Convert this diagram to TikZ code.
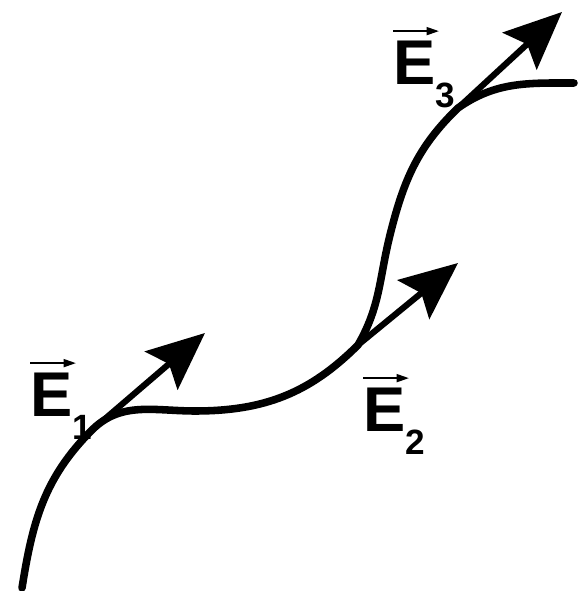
\documentclass[tikz,border=0pt]{standalone}
\usepackage{fontspec}
\setmainfont{Liberation Sans}
\usetikzlibrary{arrows.meta}
\newcommand{\fieldvec}[1]{E\raisebox{-0.46cm}{\fontsize{20}{20}\selectfont #1}}
\begin{document}
\begin{tikzpicture}[x=0.02cm, y=0.02cm,
    fieldline/.style={line width=4.3pt, line cap=round},
    fieldarrow/.style={line width=3.5pt, -{Stealth[length=1.15cm, width=1cm, inset=0.2cm]}},
    vecbar/.style={line width=1.1pt, -{Triangle[length=0.25cm, width=0.16cm]}},
    lbl/.style={font=\fontsize{36}{40}\selectfont\bfseries, inner sep=0pt, anchor=base west}]
    \useasboundingbox (0,0) rectangle (585,591);

    % Linia pola
    \coordinate (s) at (22,3);
    \coordinate (p1) at (92,161);
    \coordinate (m1) at (195,180);
    \coordinate (p2) at (358,246);
    \coordinate (m2) at (390,356);
    \coordinate (p3) at (458,483);
    \coordinate (t) at (574,508);
    \draw[fieldline] (s) to[out=81, in=225] (p1) to[out=45, in=180] (m1)
        to[out=0, in=225] (p2) to[out=60, in=256] (m2)
        to[out=76, in=224] (p3) to[out=35, in=180] (t);

    % Wektory natezenia
    \coordinate (e1) at (205,258);
    \coordinate (e2) at (458,328);
    \coordinate (e3) at (562,579);
    \draw[fieldarrow] (p1) -- (e1);
    \draw[fieldarrow] (p2) -- (e2);
    \draw[fieldarrow] (p3) -- (e3);

    % Podpisy
    \node (l1) at (30,174) [lbl] {\fieldvec{1}};
    \node (l2) at (363,159) [lbl] {\fieldvec{2}};
    \node (l3) at (393,506) [lbl] {\fieldvec{3}};
    \draw[vecbar] ([yshift=0.2cm]l1.north west) -- +(46,0);
    \draw[vecbar] ([yshift=0.2cm]l2.north west) -- +(46,0);
    \draw[vecbar] ([yshift=0.2cm]l3.north west) -- +(46,0);
\end{tikzpicture}
\end{document}
